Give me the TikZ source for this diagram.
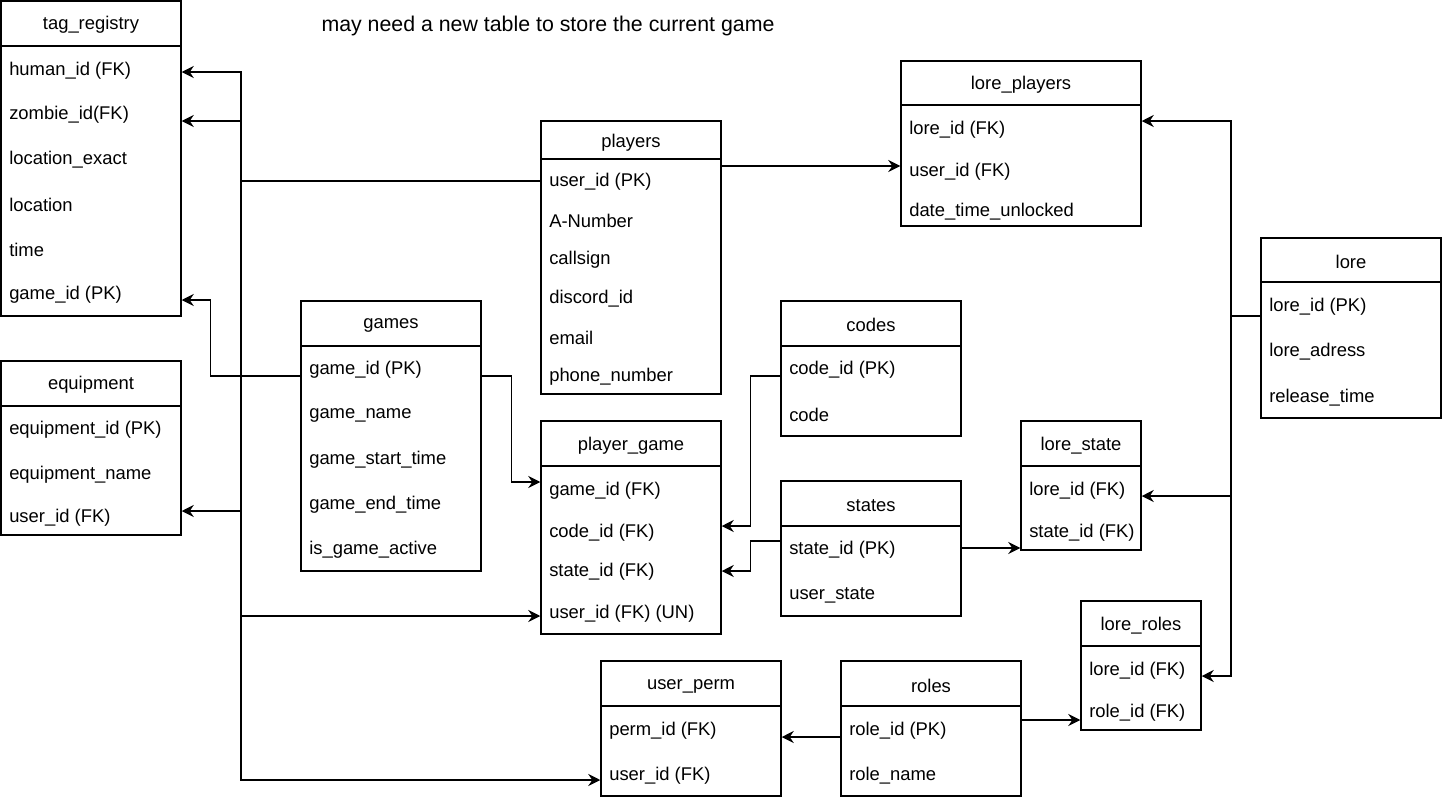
\documentclass[tikz,border=0pt]{standalone}
\usepackage{fontspec}
\setmainfont{Liberation Sans}
\usetikzlibrary{arrows.meta,calc,fit}
\tikzstyle{tbl}=[draw=black,line width=1.1pt,inner sep=0pt]
\tikzstyle{wire}=[black,line width=1.1pt]
\tikzstyle{rel}=[black,line width=1.1pt,-{Stealth[length=9pt,width=9pt,inset=3pt]}]
\tikzstyle{hdr}=[font=\fontsize{13.8}{16}\selectfont,inner sep=0pt,yshift=-1.5pt]
\tikzstyle{fld}=[anchor=west,font=\fontsize{13.8}{16}\selectfont,inner sep=0pt,yshift=-1.5pt]

\begin{document}
\begin{tikzpicture}[x=0.75pt,y=-0.75pt]
\useasboundingbox (0,0) rectangle (1442,797);
\node[hdr,font=\fontsize{16}{19}\selectfont] (nt) at (548,24) {may need a new table to store the current game};
% tag_registry
\node[tbl, fit={(1,1) (181,316)}] (tr) {};
\draw[wire] (tr.west |- 0,46) -- (tr.east |- 0,46);
\node[hdr] (tr-h) at (91,23) {tag\_registry};
\node[fld] (tr-1) at (9,69) {human\_id (FK)};
\node[fld] (tr-2) at (9,113) {zombie\_id(FK)};
\node[fld] (tr-3) at (9,158) {location\_exact};
\node[fld] (tr-4) at (9,203) {location};
\node[fld] (tr-5) at (9,248) {time};
\node[fld] (tr-6) at (9,293) {game\_id (PK)};
% equipment
\node[tbl, fit={(1,361) (181,535)}] (eq) {};
\draw[wire] (eq.west |- 0,406) -- (eq.east |- 0,406);
\node[hdr] (eq-h) at (91,383) {equipment};
\node[fld] (eq-1) at (9,428) {equipment\_id (PK)};
\node[fld] (eq-2) at (9,473) {equipment\_name};
\node[fld] (eq-3) at (9,516) {user\_id (FK)};
% players
\node[tbl, fit={(541,121) (721,394)}] (pl) {};
\draw[wire] (pl.west |- 0,159) -- (pl.east |- 0,159);
\node[hdr] (pl-h) at (631,141) {players};
\node[fld] (pl-1) at (549,180) {user\_id (PK)};
\node[fld] (pl-2) at (549,219) {A-Number};
\node[fld] (pl-3) at (549,258) {callsign};
\node[fld] (pl-4) at (549,297) {discord\_id};
\node[fld] (pl-5) at (549,336) {email};
\node[fld] (pl-6) at (549,375) {phone\_number};
% lore_players
\node[tbl, fit={(901,61) (1141,226)}] (lp) {};
\draw[wire] (lp.west |- 0,105) -- (lp.east |- 0,105);
\node[hdr] (lp-h) at (1021,83) {lore\_players};
\node[fld] (lp-1) at (909,128) {lore\_id (FK)};
\node[fld] (lp-2) at (909,170) {user\_id (FK)};
\node[fld] (lp-3) at (909,210) {date\_time\_unlocked};
% lore
\node[tbl, fit={(1261,238) (1441,418)}] (lo) {};
\draw[wire] (lo.west |- 0,282) -- (lo.east |- 0,282);
\node[hdr] (lo-h) at (1351,260) {lore};
\node[fld] (lo-1) at (1269,305) {lore\_id (PK)};
\node[fld] (lo-2) at (1269,350) {lore\_adress};
\node[fld] (lo-3) at (1269,396) {release\_time};
% games
\node[tbl, fit={(301,301) (481,571)}] (gm) {};
\draw[wire] (gm.west |- 0,346) -- (gm.east |- 0,346);
\node[hdr] (gm-h) at (391,323) {games};
\node[fld] (gm-1) at (309,368) {game\_id (PK)};
\node[fld] (gm-2) at (309,413) {game\_name};
\node[fld] (gm-3) at (309,458) {game\_start\_time};
\node[fld] (gm-4) at (309,503) {game\_end\_time};
\node[fld] (gm-5) at (309,548) {is\_game\_active};
% player_game
\node[tbl, fit={(541,421) (721,634)}] (pg) {};
\draw[wire] (pg.west |- 0,466) -- (pg.east |- 0,466);
\node[hdr] (pg-h) at (631,444) {player\_game};
\node[fld] (pg-1) at (549,489) {game\_id (FK)};
\node[fld] (pg-2) at (549,531) {code\_id (FK)};
\node[fld] (pg-3) at (549,570) {state\_id (FK)};
\node[fld] (pg-4) at (549,612) {user\_id (FK) (UN)};
% codes
\node[tbl, fit={(781,301) (961,436)}] (cd) {};
\draw[wire] (cd.west |- 0,346) -- (cd.east |- 0,346);
\node[hdr] (cd-h) at (871,323) {codes};
\node[fld] (cd-1) at (789,368) {code\_id (PK)};
\node[fld] (cd-2) at (789,413) {code};
% states
\node[tbl, fit={(781,481) (961,616)}] (st) {};
\draw[wire] (st.west |- 0,526) -- (st.east |- 0,526);
\node[hdr] (st-h) at (871,504) {states};
\node[fld] (st-1) at (789,548) {state\_id (PK)};
\node[fld] (st-2) at (789,593) {user\_state};
% lore_state
\node[tbl, fit={(1021,421) (1141,550)}] (ls) {};
\draw[wire] (ls.west |- 0,466) -- (ls.east |- 0,466);
\node[hdr] (ls-h) at (1081,444) {lore\_state};
\node[fld] (ls-1) at (1029,489) {lore\_id (FK)};
\node[fld] (ls-2) at (1029,531) {state\_id (FK)};
% lore_roles
\node[tbl, fit={(1081,601) (1201,730)}] (lr) {};
\draw[wire] (lr.west |- 0,646) -- (lr.east |- 0,646);
\node[hdr] (lr-h) at (1141,624) {lore\_roles};
\node[fld] (lr-1) at (1089,669) {lore\_id (FK)};
\node[fld] (lr-2) at (1089,711) {role\_id (FK)};
% user_perm
\node[tbl, fit={(601,661) (781,796)}] (up) {};
\draw[wire] (up.west |- 0,706) -- (up.east |- 0,706);
\node[hdr] (up-h) at (691,684) {user\_perm};
\node[fld] (up-1) at (609,729) {perm\_id (FK)};
\node[fld] (up-2) at (609,774) {user\_id (FK)};
% roles
\node[tbl, fit={(841,661) (1021,796)}] (rl) {};
\draw[wire] (rl.west |- 0,706) -- (rl.east |- 0,706);
\node[hdr] (rl-h) at (931,684) {roles};
\node[fld] (rl-1) at (849,729) {role\_id (PK)};
\node[fld] (rl-2) at (849,774) {role\_name};

% players.user_id fan-out on the left
\coordinate (tk) at (241,181);
\draw[wire] (pl.west |- tk) -- (tk);
\draw[rel] ($(tk |- up-2)+(0,4)$) |- ($(tr.east |- tr-1)+(0,1)$);
\draw[rel] (tk) |- ($(up.west |- up-2)+(0,4)$);
\draw[rel] ($(tk |- tr-2)+(0,6)$) -- ($(tr.east |- tr-2)+(0,6)$);
\draw[rel] ($(tk |- eq-3)+(0,-7)$) -- ($(eq.east |- eq-3)+(0,-7)$);
\draw[rel] ($(tk |- pg-4)+(0,2)$) -- ($(pg.west |- pg-4)+(0,2)$);
\draw[rel] ($(pl.east |- lp-2)+(0,-6)$) -- ($(lp.west |- lp-2)+(0,-6)$);
% lore.lore_id fan-out on the right
\coordinate (rk) at (1231,316);
\draw[wire] (lo.west |- rk) -- (rk);
\draw[rel] (rk) |- ($(lp.east |- lp-1)+(0,-9)$);
\draw[rel] (rk) |- ($(lr.east |- lr-1)+(0,5)$);
\draw[rel] ($(rk |- ls-1)+(0,5)$) -- ($(ls.east |- ls-1)+(0,5)$);
% games
\draw[rel] ($(gm.west |- gm-1)+(0,6)$) -- ++(-90,0) |- ($(tr.east |- tr-6)+(0,5)$);
\draw[rel] ($(gm.east |- gm-1)+(0,6)$) -- ++(30,0) |- ($(pg.west |- pg-1)+(0,-9)$);
% codes, states, roles
\draw[rel] ($(cd.west |- cd-1)+(0,6)$) -- ++(-30,0) |- ($(pg.east |- pg-2)+(0,-7)$);
\draw[rel] ($(st.west |- st-1)+(0,-9)$) -- ++(-30,0) |- ($(pg.east |- pg-3)+(0,-1)$);
\draw[rel] ($(st.east |- st-1)+(0,-2)$) -- ($(ls.west |- st-1)+(0,-2)$);
\draw[rel] ($(rl.west |- rl-1)+(0,6)$) -- ($(up.east |- rl-1)+(0,6)$);
\draw[rel] ($(rl.east |- lr-2)+(0,7)$) -- ($(lr.west |- lr-2)+(0,7)$);
\end{tikzpicture}
\end{document}
